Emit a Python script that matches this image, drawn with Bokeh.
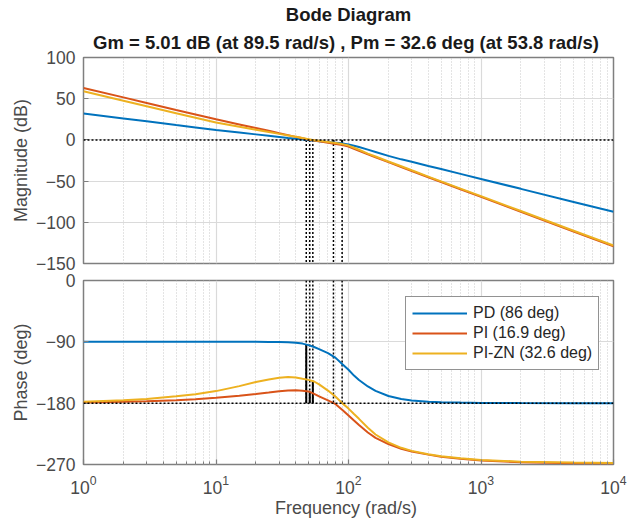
from bokeh.plotting import figure
from bokeh.models import FixedTicker, Title, Legend, LegendItem, Span
from bokeh.layouts import column
from bokeh.embed import file_html
from bokeh.resources import INLINE

# ---------------- data ----------------
freq = [1, 2, 3, 5, 7, 10, 15, 20, 25, 30, 35, 40, 45, 50, 55, 60, 70, 80, 90,
        100, 110, 120, 140, 160, 200, 250, 300, 400, 500, 700, 1000, 2000, 5000, 10000]

mag_pd = [32, 26, 22.5, 18, 15.1, 12, 8.9, 6.7, 5.0, 3.6, 2.4, 1.4, 0.5, -0.3, -1.0, -1.6,
          -2.6, -3.4, -4.2, -5.5, -7.0, -8.6, -11.8, -14.6, -19.4, -23.6, -26.6, -31.6,
          -35.4, -41.2, -47.4, -59.4, -75.3, -87.3]
mag_pi = [63, 51.6, 44.9, 36.4, 30.9, 25, 18.8, 14.4, 11.0, 8.1, 5.8, 3.7, 1.9, 0.3, -0.8,
          -1.8, -3.5, -4.9, -6.2, -8.0, -10.8, -13.2, -17.5, -21.0, -27.0, -32.9, -37.8,
          -45.3, -51.1, -59.9, -69.2, -87.3, -111.2, -129.2]
mag_zn = [59, 47.6, 40.9, 32.4, 26.9, 21, 16, 12.4, 9.6, 7.3, 5.4, 3.7, 2.2, 0.9, -0.3,
          -1.1, -2.6, -3.9, -5.1, -6.9, -9.5, -12.0, -16.6, -20.2, -26.2, -32.0, -36.9,
          -44.5, -50.3, -59.1, -68.3, -86.3, -110.2, -128.2]

ph_pd = [-90, -90, -90, -90, -90, -90, -90, -90, -90.1, -90.3, -90.6, -91.2, -92.6, -94.8,
         -97.6, -100.8, -106.5, -113.5, -123, -131, -139.5, -146, -155.5, -162, -169.5,
         -174, -176.2, -177.8, -178.6, -179.2, -179.6, -179.9, -180, -180]
ph_pi = [-179, -178, -177.3, -175.8, -174.2, -172, -169, -166.5, -164.5, -162.6, -161.4,
         -161, -161.7, -162.8, -166.3, -170, -176, -181.5, -190, -198, -205.5, -212, -223,
         -231, -240, -247, -251, -255.5, -258.5, -261.5, -264, -266.8, -268, -268.5]
ph_zn = [-178, -175.6, -173.8, -170, -167, -162.3, -155, -149, -145.2, -142.7, -141.5,
         -142.2, -144.2, -145.8, -148.2, -152.5, -161.5, -170.5, -180.3, -188, -196, -203,
         -216, -226, -237.5, -245.5, -250, -255, -258, -260.8, -263.3, -265.8, -267.2, -267.8]

series_names = ["PD (86 deg)", "PI (16.9 deg)", "PI-ZN (32.6 deg)"]
series_colors = ["#0072BD", "#D95319", "#EDB120"]

# stability margins (gain crossover / phase crossover)
cross_freq = [48.0, 51.0, 53.8]
cross_phase = [-94.0, -163.1, -147.4]
pc_freq = [77.0, 89.5]
pc_mag = [-4.5, -5.01]

title_main = "Bode Diagram"
title_sub = "Gm = 5.01 dB (at 89.5 rad/s) ,  Pm = 32.6 deg (at 53.8 rad/s)"

x_ticks = [1, 10, 100, 1000, 10000]
x_minor = [m * 10 ** k for k in range(4) for m in range(2, 10)]
mag_ticks = [-150, -100, -50, 0, 50, 100]
ph_ticks = [-270, -180, -90, 0]
mag_lim = (-150, 100)
ph_lim = (-270, 0)
x_lim = (1, 10000)

FONT = "Liberation Sans"
TXT = "#4a4a4a"
AX = "#7f7f7f"


def style(p, yticks):
    p.outline_line_color = AX
    p.outline_line_width = 1.5
    p.xaxis.ticker = FixedTicker(ticks=x_ticks, minor_ticks=x_minor)
    p.yaxis.ticker = FixedTicker(ticks=yticks)
    p.xgrid.grid_line_color = "#dadada"
    p.xgrid.grid_line_width = 1.2
    p.xgrid.minor_grid_line_color = "#c8c8c8"
    p.xgrid.minor_grid_line_dash = "1 2"
    p.xgrid.minor_grid_line_width = 1
    p.ygrid.grid_line_color = "#dadada"
    p.ygrid.grid_line_width = 1.2
    for ax in p.axis:
        ax.axis_line_color = None
        ax.major_tick_in = 5
        ax.major_tick_out = 0
        ax.minor_tick_in = 3
        ax.minor_tick_out = 0
        ax.major_tick_line_color = AX
        ax.minor_tick_line_color = AX
        ax.major_tick_line_width = 1.2
        ax.major_label_text_font = FONT
        ax.major_label_text_font_size = "17.5px"
        ax.major_label_text_color = TXT
        ax.major_label_standoff = 8
        ax.axis_label_text_font = FONT
        ax.axis_label_text_font_size = "18px"
        ax.axis_label_text_font_style = "normal"
        ax.axis_label_text_color = TXT
        ax.axis_label_standoff = 2


common = dict(width=630, x_axis_type="log", x_range=x_lim, toolbar_location=None,
              output_backend="svg", min_border_left=83, min_border_right=17)

# ---------------- magnitude ----------------
p1 = figure(height=273, y_range=mag_lim, min_border_top=57, min_border_bottom=10, **common)
style(p1, mag_ticks)
p1.yaxis.axis_label = "Magnitude (dB)"
p1.xaxis.visible = False

p1.add_layout(Span(location=0, dimension="width", line_color="black",
                   line_dash="2 2", line_width=1.5))
vf = cross_freq + pc_freq
p1.segment(x0=vf, y0=[0] * len(vf), x1=vf, y1=[mag_lim[0]] * len(vf),
           line_color="black", line_dash="2 2", line_width=1.5)
p1.segment(x0=pc_freq, y0=[0] * len(pc_freq), x1=pc_freq, y1=pc_mag,
           line_color="black", line_width=2)
for m, c in zip([mag_pd, mag_pi, mag_zn], series_colors):
    p1.line(freq, m, line_color=c, line_width=2)

p1.title.text = title_main
p1.title.align = "center"
p1.title.text_font = FONT
p1.title.text_font_size = "18.5px"
p1.title.text_font_style = "bold"
p1.title.text_color = "#1a1a1a"
p1.title.standoff = 2
p1.add_layout(Title(text=title_sub, align="center", text_font=FONT, text_font_size="18.5px",
                    text_font_style="bold", text_color="#1a1a1a", standoff=9), "above")

# ---------------- phase ----------------
p2 = figure(height=247, y_range=ph_lim, min_border_top=7, min_border_bottom=0, **common)
style(p2, ph_ticks)
p2.yaxis.axis_label = "Phase (deg)"
p2.xaxis.axis_label = "Frequency  (rad/s)"
p2.xaxis.major_label_standoff = 10
p2.xaxis.axis_label_standoff = 1

p2.add_layout(Span(location=-180, dimension="width", line_color="black",
                   line_dash="2 2", line_width=1.5))
p2.segment(x0=vf, y0=[ph_lim[1]] * len(vf), x1=vf, y1=[-180] * len(vf),
           line_color="black", line_dash="2 2", line_width=1.5)
p2.segment(x0=cross_freq, y0=[-180] * len(cross_freq), x1=cross_freq, y1=cross_phase,
           line_color="black", line_width=2)
items = []
for ph, c, name in zip([ph_pd, ph_pi, ph_zn], series_colors, series_names):
    r = p2.line(freq, ph, line_color=c, line_width=2)
    items.append(LegendItem(label=name, renderers=[r]))

legend = Legend(items=items, location=(322, 94), margin=0, padding=6, spacing=0,
                glyph_width=55, glyph_height=20, label_height=20, label_standoff=6,
                label_text_font=FONT, label_text_font_size="16px", label_text_color="#262626",
                border_line_color="#262626", border_line_width=1.5,
                background_fill_color="white", background_fill_alpha=1)
p2.add_layout(legend)

layout = column(p1, p2, spacing=0)
open("out.html", "w").write(file_html(layout, INLINE))
